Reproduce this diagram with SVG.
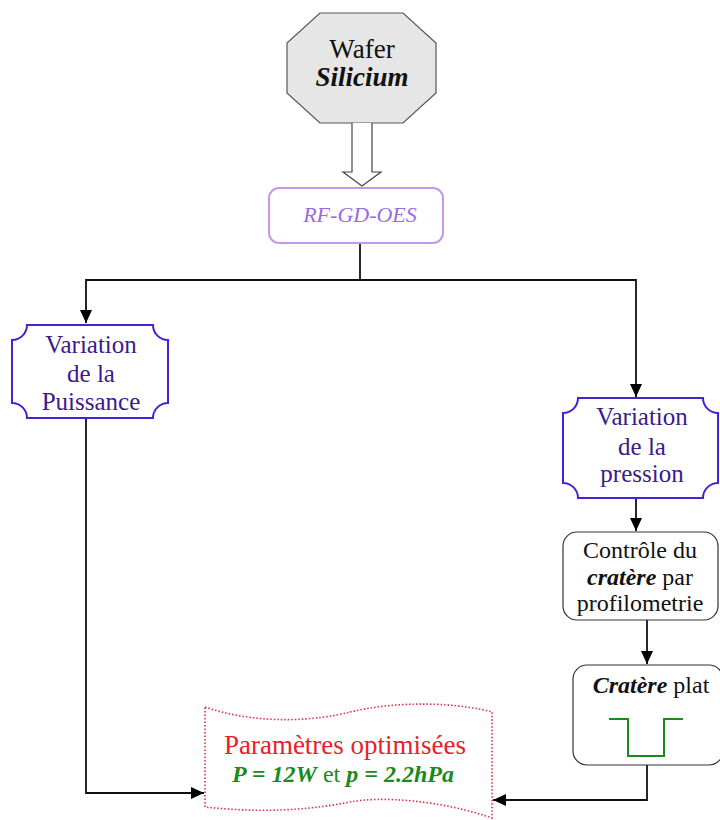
<svg xmlns="http://www.w3.org/2000/svg" width="720" height="820" viewBox="0 0 720 820">
<defs>
<marker id="ah" markerUnits="userSpaceOnUse" markerWidth="14" markerHeight="12" refX="13" refY="6" orient="auto">
<path d="M0,0 L13,6 L0,12 z" fill="#000"/>
</marker>
<style>
.t{font-family:"Liberation Serif","Times New Roman",serif;text-anchor:middle}
.conn{fill:none;stroke:#111;stroke-width:1.8;marker-end:url(#ah)}
.var{fill:#fff;stroke:#4a1fd6;stroke-width:2}
.vt{fill:#3b1a8f;font-size:25px}
.box{fill:#fff;stroke:#333;stroke-width:1.2}
.bt{fill:#111;font-size:24px}
.bi{font-weight:bold;font-style:italic}
</style>
</defs>
<rect width="720" height="820" fill="#fff"/>

<g id="connectors">
<path class="conn" d="M360,243 V280 H86 V323"/>
<path class="conn" d="M360,280 H636 V397"/>
<path class="conn" d="M86,418 V793 H204"/>
<path class="conn" d="M636,498 V531"/>
<path class="conn" d="M647,620 V664"/>
<path class="conn" d="M647,765 V800 H493"/>
</g>

<g id="wafer">
<polygon points="320,13 403,13 436,43 436,93 403,123 320,123 287,93 287,43" fill="#e6e6e6" stroke="#555" stroke-width="1.2"/>
<text class="t" x="362" y="58" font-size="27" fill="#111">Wafer</text>
<text class="t bi" x="362" y="86" font-size="27" fill="#111">Silicium</text>
</g>

<g id="hollow-arrow">
<path d="M352,123 L352,172 L343,172 L362,186 L381,172 L372,172 L372,123" fill="#fff" stroke="#444" stroke-width="1.2"/>
</g>

<g id="rfgdoes">
<rect x="269" y="188" width="174" height="55" rx="10" fill="#fff" stroke="#c896e8" stroke-width="2"/>
<text class="t" x="360" y="222" font-size="22" font-style="italic" fill="#9a6be0">RF-GD-OES</text>
</g>

<g id="var-puissance">
<path class="var" d="M27,325 L153,325 A15,15 0 0 0 168,340 L168,403 A15,15 0 0 0 153,418 L27,418 A15,15 0 0 0 12,403 L12,340 A15,15 0 0 0 27,325 Z"/>
<text class="t vt" x="91" y="353">Variation</text>
<text class="t vt" x="91" y="382">de la</text>
<text class="t vt" x="91" y="410">Puissance</text>
</g>

<g id="var-pression">
<path class="var" d="M578,398 L703,398 A15,15 0 0 0 718,413 L718,483 A15,15 0 0 0 703,498 L578,498 A15,15 0 0 0 563,483 L563,413 A15,15 0 0 0 578,398 Z"/>
<text class="t vt" x="642" y="425">Variation</text>
<text class="t vt" x="642" y="455">de la</text>
<text class="t vt" x="642" y="482">pression</text>
</g>

<g id="controle">
<rect class="box" x="563" y="532" width="155" height="88" rx="14"/>
<text class="t bt" x="640" y="558">Contrôle du</text>
<text class="t bt" x="640" y="585"><tspan class="bi">cratère</tspan> par</text>
<text class="t bt" x="640" y="611">profilometrie</text>
</g>

<g id="cratere">
<rect class="box" x="573" y="665" width="150" height="100" rx="14"/>
<text class="t bt" x="651" y="693"><tspan class="bi">Cratère</tspan> plat</text>
<polyline points="609,719 628,719 628,756 664,756 664,719 683,719" fill="none" stroke="#1a8a1a" stroke-width="2"/>
</g>

<g id="parametres">
<path d="M205,707 C260,726 320,720 350,712 C400,700 460,703 492,712 L492,818 C440,800 380,796 350,802 C300,812 250,812 205,807 Z" fill="#fff" stroke="#e0304a" stroke-width="1.6" stroke-dasharray="1.5 2"/>
<text class="t" x="345" y="754" font-size="27" fill="#e8202a">Paramètres optimisées</text>
<text class="t" x="343" y="782" font-size="24" fill="#1a8a1a"><tspan class="bi">P = 12W</tspan> et <tspan class="bi">p = 2.2hPa</tspan></text>
</g>
</svg>
